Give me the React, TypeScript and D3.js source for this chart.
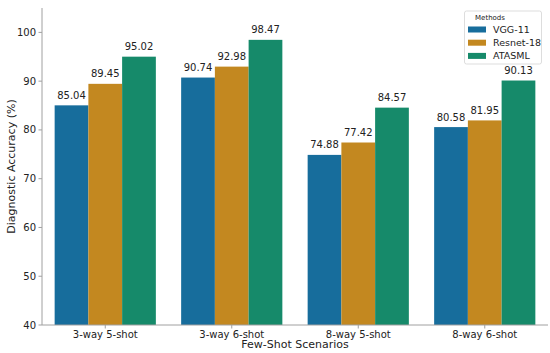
import React from "react";
import * as d3 from "d3";

const categories = ["3-way 5-shot", "3-way 6-shot", "8-way 5-shot", "8-way 6-shot"];
const methods = ["VGG-11", "Resnet-18", "ATASML"];
const vgg11 = [85.04, 90.74, 74.88, 80.58];
const resnet18 = [89.45, 92.98, 77.42, 81.95];
const atasml = [95.02, 98.47, 84.57, 90.13];
const yTicks = [40, 50, 60, 70, 80, 90, 100];
const colors = ["#176d9c", "#c38820", "#168a6a"];

const W = 550, H = 353;
const M = { left: 42, right: 548, top: 8, bottom: 325 };

export default function App() {
  const series = [vgg11, resnet18, atasml];
  const x = d3.scaleBand<string>().domain(categories).range([M.left, M.right]).paddingInner(0).paddingOuter(0);
  const x1 = d3.scaleBand<string>().domain(methods).range([0, x.bandwidth() * 0.8]);
  const y = d3.scaleLinear().domain([40, 105]).range([M.bottom, M.top]);
  const font = "DejaVu Sans, sans-serif";
  const axisColor = "#a0a0a0";
  return (
    <svg width={W} height={H} style={{ position: "absolute", left: 0, top: 0, background: "#fff" }} fontFamily={font}>
      {categories.map((c, i) =>
        series.map((s, j) => {
          const bx = (x(c) as number) + x.bandwidth() * 0.1 + (x1(methods[j]) as number);
          const v = s[i];
          return (
            <g key={`${i}-${j}`}>
              <rect x={bx} y={y(v)} width={x1.bandwidth()} height={y(40) - y(v)} fill={colors[j]} />
              <text x={bx + x1.bandwidth() / 2} y={y(v) - 6.5} textAnchor="middle" fontSize={10} fill="#222">
                {v.toFixed(2)}
              </text>
            </g>
          );
        })
      )}
      {/* axes */}
      <line x1={M.left} x2={M.left} y1={M.top} y2={M.bottom} stroke={axisColor} strokeWidth={1} />
      <line x1={M.left} x2={M.right} y1={M.bottom} y2={M.bottom} stroke={axisColor} strokeWidth={1} />
      {yTicks.map((t) => (
        <g key={t}>
          <line x1={M.left - 3.5} x2={M.left} y1={y(t)} y2={y(t)} stroke={axisColor} />
          <text x={M.left - 6} y={y(t)} dy="0.35em" textAnchor="end" fontSize={10} fill="#222">
            {t}
          </text>
        </g>
      ))}
      {categories.map((c) => {
        const cx = (x(c) as number) + x.bandwidth() / 2;
        return (
          <g key={c}>
            <line x1={cx} x2={cx} y1={M.bottom} y2={M.bottom + 3.5} stroke={axisColor} />
            <text x={cx} y={M.bottom + 12.5} textAnchor="middle" fontSize={10} fill="#222">
              {c}
            </text>
          </g>
        );
      })}
      <text x={(M.left + M.right) / 2} y={348} textAnchor="middle" fontSize={11} fill="#222">
        Few-Shot Scenarios
      </text>
      <text transform={`translate(15,${(M.top + M.bottom) / 2}) rotate(-90)`} textAnchor="middle" fontSize={11} fill="#222">
        Diagnostic Accuracy (%)
      </text>
      {/* legend */}
      <g>
        <rect x={464.5} y={11} width={77} height={53} rx={2} fill="#fff" fillOpacity={0.8} stroke="#ddd" />
        <text x={490} y={20} textAnchor="middle" fontSize={7} fill="#222">
          Methods
        </text>
        {methods.map((m, j) => (
          <g key={m}>
            <rect x={468} y={26.5 + j * 13.2} width={18} height={6} fill={colors[j]} />
            <text x={493} y={29.5 + j * 13.2} dy="0.35em" fontSize={9.5} fill="#222">
              {m}
            </text>
          </g>
        ))}
      </g>
    </svg>
  );
}
